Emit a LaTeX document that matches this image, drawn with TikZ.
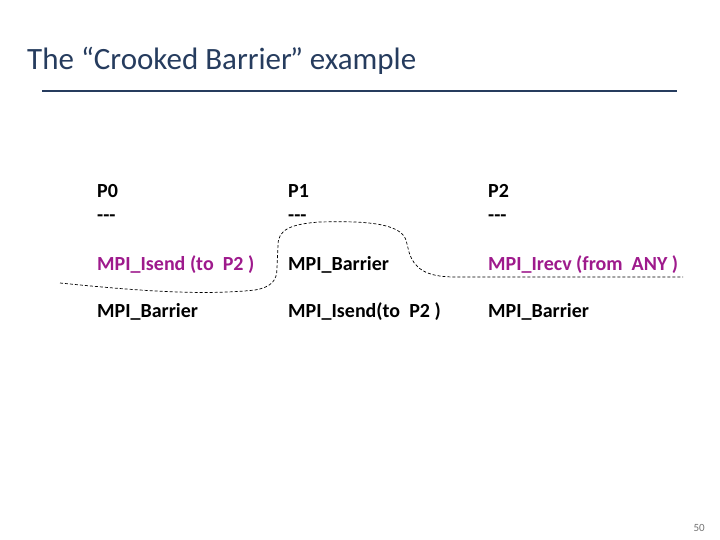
\documentclass[tikz,border=0pt]{standalone}
\usepackage{fontspec}
\setmainfont{Carlito}
\usepackage{tikz}
\usetikzlibrary{positioning}

\definecolor{titleblue}{RGB}{38,60,94}
\definecolor{callmag}{RGB}{158,26,140}

\begin{document}
\begin{tikzpicture}[x=1pt, y=-1pt,
    lbl/.style={anchor=base west, inner sep=0pt, font=\fontsize{20}{24}\selectfont\bfseries},
    call/.style={lbl, text=callmag},
    barrier/.style={black, line width=0.7pt, dash pattern=on 3pt off 2pt}]
    \useasboundingbox (0,0) rectangle (720,540);

    % Title
    \node (title) at (27,70) [anchor=base west, inner sep=0pt, text=titleblue,
        font=\fontsize{31}{36}\selectfont] {The “Crooked Barrier\kern-2pt” example};
    \draw[titleblue, line width=1.8pt] (42,91) -- (677,91);

    % Processes
    \node (p0) at (97,197) [lbl] {P0};
    \node (p1) at (288,197) [lbl] {P1};
    \node (p2) at (488,197) [lbl] {P2};
    \node (d0) at (97,222) [lbl] {-{}-{}-};
    \node (d1) at (288,222) [lbl] {-{}-{}-};
    \node (d2) at (488,222) [lbl] {-{}-{}-};

    % First call of each process
    \node (isend0) at (97,270) [call] {MPI\_Isend (to~~P2 )};
    \node (bar1) at (288,270) [lbl] {MPI\_Barrier};
    \node (irecv2) at (488,270) [call] {MPI\_Irecv (from~~ANY )};

    % Second call of each process
    \node (bar0) at (97,317) [lbl] {MPI\_Barrier};
    \node (isend1) at (288,317) [lbl] {MPI\_Isend(to~~P2 )};
    \node (bar2) at (488,317) [lbl] {MPI\_Barrier};

    % The crooked barrier line
    \draw[barrier] (60,283) .. controls (130,290) and (200,296) .. (255,290)
        .. controls (272,287) and (277,280) .. (277,268) -- (278,245)
        .. controls (278,230) and (290,224) .. (320,222)
        .. controls (360,221) and (400,222) .. (406,240) -- (409,252)
        .. controls (414,268) and (425,277) .. (455,277) -- (683,277);

    % Slide number
    \node (num) at (705,531) [anchor=base east, inner sep=0pt, text=black!55,
        font=\fontsize{11}{13}\selectfont] {50};
\end{tikzpicture}
\end{document}
